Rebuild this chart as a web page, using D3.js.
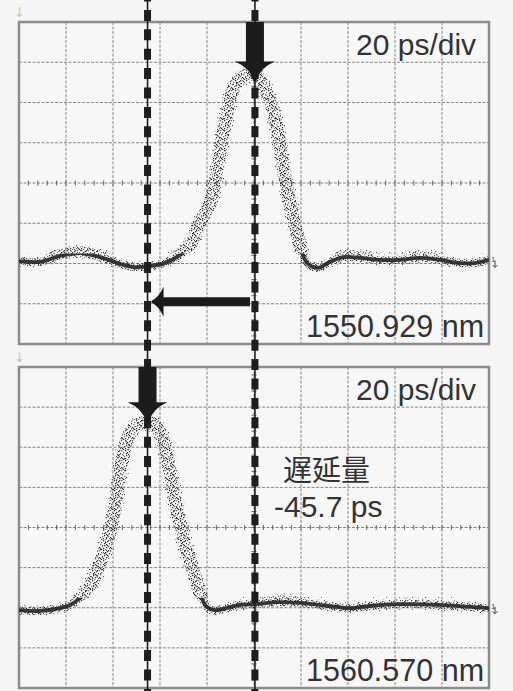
<!DOCTYPE html>
<html>
<head>
<meta charset="utf-8">
<script src="https://cdn.jsdelivr.net/npm/d3@7"></script>
<style>
  html, body { margin: 0; padding: 0; background: #f5f5f5; }
  svg { display: block; }
</style>
</head>
<body>
<svg id="chart" width="513" height="691"></svg>
<script>
// ---------------- DATA ----------------
const timeDomain = [0, 200];      // ps : 10 div x 20 ps/div
const ampDomain = [-4, 4];        // vertical divisions
const gridTimes = [20, 40, 60, 80, 100, 120, 140, 160, 180];
const gridAmps = [-3, -2, -1, 0, 1, 2, 3];

// upper trace (1550.929 nm)
const topTraceT = [0, 8.9, 17.4, 26.0, 34.5, 43.0, 49.4, 55.7, 62.1, 68.5, 73.6, 77.0, 81.3, 84.3, 86.8, 89.8, 92.3, 96.2, 100.0, 102.6, 106.8, 110.2, 112.3, 115.3, 118.3, 120.4, 123.0, 127.2, 132.3, 137.9, 145.1, 153.6, 162.1, 170.6, 179.1, 187.7, 194.0, 200];
const topTraceV = [-1.94, -1.96, -1.81, -1.74, -1.84, -2.01, -2.09, -2.06, -1.99, -1.79, -1.49, -0.99, -0.50, 0.32, 1.24, 2.06, 2.46, 2.66, 2.71, 2.56, 2.06, 1.24, 0.45, -0.50, -1.24, -1.74, -2.01, -2.11, -1.96, -1.84, -1.86, -1.91, -1.91, -1.86, -1.91, -1.99, -1.99, -1.91];

// lower trace (1560.570 nm)
const bottomTraceT = [0, 8.9, 17.4, 21.7, 26.0, 30.2, 34.5, 37.4, 40.0, 43.0, 45.9, 49.4, 54.5, 58.3, 61.3, 64.3, 66.4, 68.1, 70.6, 74.0, 77.0, 79.6, 83.4, 94.0, 100.4, 110.0, 119.6, 135.3, 140.9, 150.0, 162.1, 179.1, 190.0, 200];
const bottomTraceV = [-2.06, -2.08, -2.01, -1.93, -1.76, -1.48, -0.89, -0.39, 0.24, 1.36, 2.18, 2.51, 2.63, 2.51, 2.18, 1.36, 0.69, 0.19, -0.39, -1.06, -1.63, -1.96, -2.06, -1.93, -1.91, -1.86, -1.88, -1.98, -2.01, -1.95, -1.91, -1.93, -1.97, -2.01];

// pulse peak markers (ps): lower peak, upper peak
const markerT = [54.7, 100.4];
const peakV = [2.62, 2.52];

const scaleLabel = "20 ps/div";
const wavelengthLabels = ["1550.929 nm", "1560.570 nm"];
const delayLabel = ["遅延量", "-45.7 ps"];

// ---------------- DRAWING ----------------
const svg = d3.select("#chart");
const W = 513, H = 691;

const x = d3.scaleLinear().domain(timeDomain).range([19, 489]);
const panels = [
  { y: d3.scaleLinear().domain(ampDomain).range([344, 22]), T: topTraceT, V: topTraceV, wl: wavelengthLabels[0] },
  { y: d3.scaleLinear().domain(ampDomain).range([688, 367]), T: bottomTraceT, V: bottomTraceV, wl: wavelengthLabels[1] }
];

const defs = svg.append("defs");
// stipple patterns imitating scattered sample dots
function makePattern(id, w, h, pts, col1, col2, sz) {
  const pat = defs.append("pattern").attr("id", id).attr("patternUnits", "userSpaceOnUse")
    .attr("width", w).attr("height", h);
  pat.selectAll("rect").data(pts).join("rect")
    .attr("x", d => d[0]).attr("y", d => d[1]).attr("width", sz).attr("height", sz)
    .attr("fill", (d, i) => i % 3 === 0 ? col2 : col1);
}
makePattern("stipA", 11, 10,
  [[0,0],[4,0],[8,1],[2,2],[6,2],[10,3],[1,4],[5,5],[8,5],[3,6],[7,7],[0,7],[10,8],[4,8],[2,9],[6,9],[9,0],[5,3],[9,6],[1,8],[7,4]],
  "#333", "#6e6e6e", 1.25);
makePattern("stipB", 13, 12,
  [[1,1],[7,2],[11,5],[4,6],[9,9],[2,10],[6,11],[12,0]],
  "#4a4a4a", "#888", 1.15);

svg.append("rect").attr("width", W).attr("height", H).attr("fill", "#f5f5f5");

panels.forEach((p, pi) => {
  const g = svg.append("g");
  const [x0, x1] = x.range();
  const [yb, yt] = p.y.range();

  g.append("rect").attr("x", x0).attr("y", yt).attr("width", x1 - x0).attr("height", yb - yt)
    .attr("fill", "#f7f7f7");

  // grid
  g.selectAll(".vg").data(gridTimes).join("line")
    .attr("x1", d => x(d)).attr("x2", d => x(d)).attr("y1", yt).attr("y2", yb)
    .attr("stroke", "#858585").attr("stroke-width", 1).attr("stroke-dasharray", "3,1.5");
  g.selectAll(".hg").data(gridAmps).join("line")
    .attr("x1", x0).attr("x2", x1).attr("y1", d => p.y(d)).attr("y2", d => p.y(d))
    .attr("stroke", "#858585").attr("stroke-width", 1).attr("stroke-dasharray", "3,1.5");

  // minor ticks on center lines
  const tTicks = d3.range(0, 200.01, 4);
  g.selectAll(".tt").data(tTicks).join("line")
    .attr("x1", d => x(d)).attr("x2", d => x(d)).attr("y1", p.y(0) - 2.5).attr("y2", p.y(0) + 2.5)
    .attr("stroke", "#666").attr("stroke-width", 1);
  const vTicks = d3.range(-4, 4.01, 0.2);
  g.selectAll(".vt").data(vTicks).join("line")
    .attr("x1", x(100) - 2.5).attr("x2", x(100) + 2.5).attr("y1", d => p.y(d)).attr("y2", d => p.y(d))
    .attr("stroke", "#666").attr("stroke-width", 1);

  // border
  g.append("rect").attr("x", x0).attr("y", yt).attr("width", x1 - x0).attr("height", yb - yt)
    .attr("fill", "none").attr("stroke", "#8c8c8c").attr("stroke-width", 2.5);

  // trace
  const data = p.T.map((t, i) => [t, p.V[i]]);
  const line = d3.line().x(d => x(d[0])).y(d => p.y(d[1])).curve(d3.curveCatmullRom.alpha(0.5));
  const cut = p.y(-1.75);
  const cu = "cu" + pi, cl = "cl" + pi;
  defs.append("clipPath").attr("id", cu).append("rect")
    .attr("x", x0).attr("y", yt).attr("width", x1 - x0).attr("height", cut - yt);
  defs.append("clipPath").attr("id", cl).append("rect")
    .attr("x", x0).attr("y", cut).attr("width", x1 - x0).attr("height", yb - cut);

  const d = line(data);
  g.append("path").attr("d", d).attr("fill", "none")
    .attr("stroke", "url(#stipB)").attr("stroke-width", 17).attr("clip-path", `url(#${cu})`);
  g.append("path").attr("d", d).attr("fill", "none")
    .attr("stroke", "url(#stipA)").attr("stroke-width", 13).attr("clip-path", `url(#${cu})`);
  g.append("path").attr("d", d).attr("fill", "none")
    .attr("stroke", "url(#stipB)").attr("stroke-width", 11).attr("clip-path", `url(#${cl})`);
  g.append("path").attr("d", d).attr("fill", "none")
    .attr("stroke", "url(#stipA)").attr("stroke-width", 8).attr("clip-path", `url(#${cl})`);
  g.append("path").attr("d", d).attr("fill", "none")
    .attr("stroke", "#262626").attr("stroke-width", 3.8).attr("stroke-opacity", 0.9)
    .attr("clip-path", `url(#${cl})`);

  // small scope markers
  g.append("text").attr("x", x0 - 5).attr("y", yt - 5).attr("font-size", 13)
    .attr("fill", "#c4c4c4").attr("font-family", "DejaVu Sans").text("↓");
  const by = p.y(pi === 0 ? -1.9 : -1.95);
  g.append("text").attr("x", x1 + 2).attr("y", by + 3).attr("font-size", 8)
    .attr("fill", "#555").attr("font-family", "Liberation Sans").text("1");
  g.append("path").attr("d", `M${x1 + 6},${by + 1} v7 m-2.5,-2.5 l2.5,2.5 l2.5,-2.5`)
    .attr("fill", "none").attr("stroke", "#444").attr("stroke-width", 1);

  // texts
  g.append("text").attr("x", 356).attr("y", yt + 33).attr("font-family", "Liberation Sans, Arial")
    .attr("font-size", 30).attr("fill", "#333").text(scaleLabel);
  g.append("text").attr("x", 306).attr("y", yb - 7).attr("font-family", "Liberation Sans, Arial")
    .attr("font-size", 30.5).attr("fill", "#333").text(p.wl);
});

// delay text in lower panel
svg.append("text").attr("x", 283).attr("y", 481).attr("font-family", "Noto Sans CJK JP")
  .attr("font-size", 29).attr("fill", "#333").text(delayLabel[0]);
svg.append("text").attr("x", 274).attr("y", 517).attr("font-family", "Liberation Sans, Arial")
  .attr("font-size", 30).attr("fill", "#333").text(delayLabel[1]);

// dashed marker lines across whole figure
markerT.forEach(t => {
  svg.append("line").attr("x1", x(t)).attr("x2", x(t)).attr("y1", 0).attr("y2", H)
    .attr("stroke", "#1e1e1e").attr("stroke-width", 1.6);
  svg.append("line").attr("x1", x(t)).attr("x2", x(t)).attr("y1", 0).attr("y2", H)
    .attr("stroke", "#1e1e1e").attr("stroke-width", 7)
    .attr("stroke-dasharray", "11,8.4").attr("stroke-dashoffset", 9.5);
});

// arrows
function downArrow(cx, top, tip) {
  const headY = tip - 20;
  return `M${cx - 9},${top} L${cx + 9},${top} L${cx + 9},${headY} L${cx + 20},${headY}
    Q${cx + 5},${headY + 6} ${cx + 1.2},${tip} L${cx - 1.2},${tip}
    Q${cx - 5},${headY + 6} ${cx - 20},${headY} L${cx - 9},${headY} Z`;
}
const yTop = panels[0].y, yBot = panels[1].y;
svg.append("path").attr("d", downArrow(x(markerT[1]), yTop(4), yTop(peakV[1]))).attr("fill", "#1c1c1c");
svg.append("path").attr("d", downArrow(x(markerT[0]), yBot(4), yBot(peakV[0]))).attr("fill", "#1c1c1c");

// left-pointing arrow in upper panel (from upper peak time toward lower peak time)
(function () {
  const ay = yTop(-2.95);
  const xs = x(markerT[1]) - 5, xt = x(markerT[0]) + 4;
  const hx = xt + 12;
  svg.append("path").attr("d",
    `M${xs},${ay - 4.5} L${hx},${ay - 4.5} L${hx},${ay - 15}
     Q${hx - 5},${ay - 4} ${xt},${ay - 1} L${xt},${ay + 1}
     Q${hx - 5},${ay + 4} ${hx},${ay + 15} L${hx},${ay + 4.5} L${xs},${ay + 4.5} Z`)
    .attr("fill", "#1c1c1c");
})();
</script>
</body>
</html>
